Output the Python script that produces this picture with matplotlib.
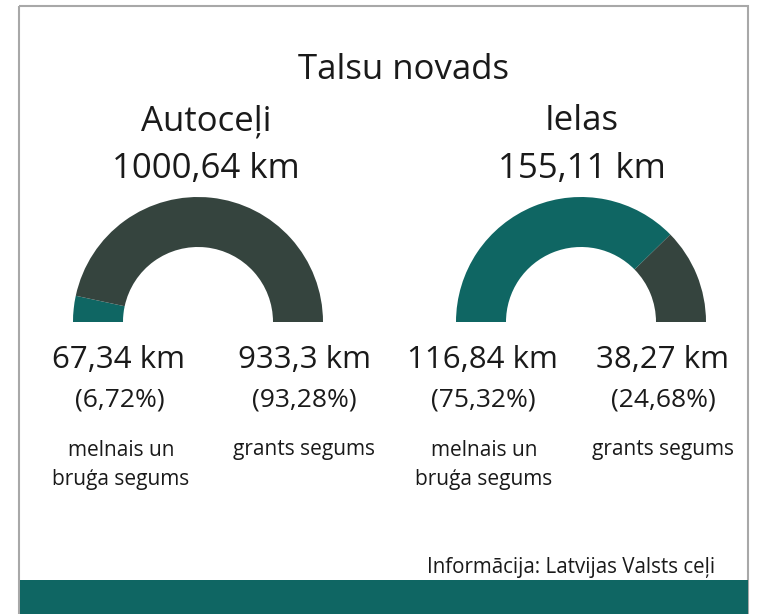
import matplotlib
matplotlib.use("Agg")
import matplotlib.pyplot as plt
from matplotlib.patches import Rectangle

plt.rcParams['font.family'] = ['Open Sans', 'DejaVu Sans']

# data
title = "Talsu novads"
groups = ["Autoceļi", "Ielas"]
totals = ["1000,64 km", "155,11 km"]
paved_km = [67.34, 116.84]
gravel_km = [933.3, 38.27]
paved_labels = ["67,34 km", "116,84 km"]
gravel_labels = ["933,3 km", "38,27 km"]
paved_pct = ["(6,72%)", "(75,32%)"]
gravel_pct = ["(93,28%)", "(24,68%)"]
paved_name = "melnais un\nbruģa segums"
gravel_name = "grants segums"
source = "Informācija: Latvijas Valsts ceļi"

TEAL = "#0f6663"
DARK = "#35443e"
TXT = "#1a1a1a"

W, H = 759, 614
fig = plt.figure(figsize=(W / 100, H / 100), dpi=100)
bg = fig.add_axes([0, 0, 1, 1])
bg.set_xlim(0, W)
bg.set_ylim(H, 0)
bg.axis('off')

# frame and bottom band
bg.add_patch(Rectangle((19, 5.5), 729, 620, fill=False, edgecolor="#a8a8a8", lw=1.5))
bg.add_patch(Rectangle((20, 580), 728, 40, color=TEAL, lw=0))

bg.text(404, 70, title, ha='center', va='center', fontsize=25, color=TXT)

centers = [198, 581]
group_x = [206, 582]
paved_x = [119, 482]
gravel_x = [304, 663]

for i in range(2):
    bg.text(group_x[i], 121, groups[i], ha='center', va='center', fontsize=25, color=TXT)
    bg.text(group_x[i], 169, totals[i], ha='center', va='center', fontsize=25, color=TXT)

    # half-donut gauge
    cx, cy, r = centers[i], 322, 125
    ax = fig.add_axes([(cx - r) / W, 1 - (cy + r) / H, 2 * r / W, 2 * r / H])
    total = paved_km[i] + gravel_km[i]
    ax.pie([paved_km[i], gravel_km[i], total], colors=[TEAL, DARK, 'none'],
           startangle=180, counterclock=False, radius=1,
           wedgeprops=dict(width=0.4, linewidth=0))
    ax.set_xlim(-1, 1)
    ax.set_ylim(-1, 1)
    ax.set_aspect('auto')
    ax.axis('off')

    bg.text(paved_x[i], 360, paved_labels[i], ha='center', va='center', fontsize=22.5, color=TXT)
    bg.text(gravel_x[i], 360, gravel_labels[i], ha='center', va='center', fontsize=22.5, color=TXT)
    bg.text(paved_x[i] + 1, 400, paved_pct[i], ha='center', va='center', fontsize=19, color=TXT)
    bg.text(gravel_x[i], 400, gravel_pct[i], ha='center', va='center', fontsize=19, color=TXT)
    bg.text(paved_x[i] + 2, 465, paved_name, ha='center', va='center', fontsize=15,
            color=TXT, linespacing=1.45)
    bg.text(gravel_x[i], 450, gravel_name, ha='center', va='center', fontsize=15, color=TXT)

bg.text(715, 567, source, ha='right', va='center', fontsize=14.8, color=TXT)

fig.savefig("out.png", dpi=100)
